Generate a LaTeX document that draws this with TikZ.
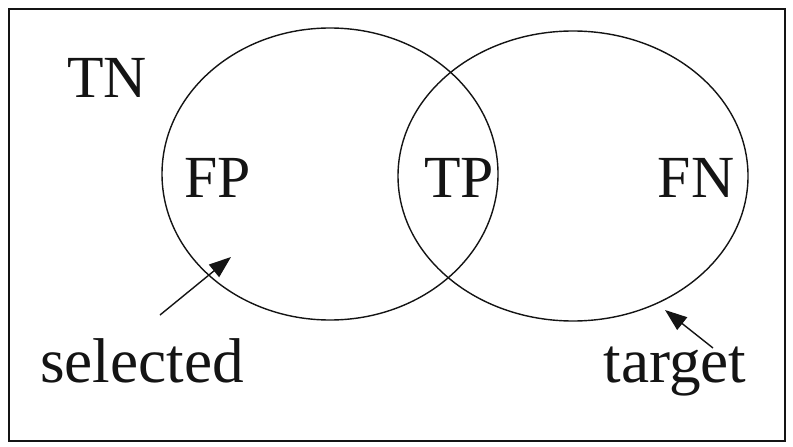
\documentclass[tikz,border=0pt]{standalone}
\usepackage{fontspec}
\setmainfont{Liberation Serif}
\usetikzlibrary{arrows.meta}
\definecolor{ink}{RGB}{20,20,20}
\tikzset{
  >={Triangle[length=4.4mm,width=3.2mm]},
  venn/.style={draw=ink,line width=0.8pt},
  frame/.style={draw=ink,line width=0.9pt},
  region/.style={anchor=base,inner sep=0pt,text=ink,font=\fontsize{34}{40}\selectfont},
  caption/.style={anchor=base,inner sep=0pt,text=ink,font=\fontsize{36}{42}\selectfont},
  pointer/.style={->,draw=ink,line width=0.8pt},
}

\begin{document}
\begin{tikzpicture}[x=0.02cm,y=-0.02cm]
    \useasboundingbox (0,0) rectangle (793,446);
    \draw[frame] (9,9) rectangle (785,441);
    % the two sets
    \draw[venn] (330,174) ellipse (168 and 146);
    \draw[venn] (573,176) ellipse (175 and 145);
    % region labels
    \node[region] (tn) at (107,97) {TN};
    \node[region] (fp) at (218,197) {FP};
    \node[region] (tp) at (459,197) {TP};
    \node[region] (fn) at (696,197) {FN};
    % set names with pointers
    \node[caption] (sel) at (142,382) {selected};
    \node[caption] (tgt) at (675,382) {target};
    \coordinate (selTail) at (160,315);
    \coordinate (selTip) at (231,257);
    \coordinate (tgtTail) at (713,348);
    \coordinate (tgtTip) at (665,310);
    \draw[pointer] (selTail) -- (selTip);
    \draw[pointer] (tgtTail) -- (tgtTip);
  \end{tikzpicture}
\end{document}
